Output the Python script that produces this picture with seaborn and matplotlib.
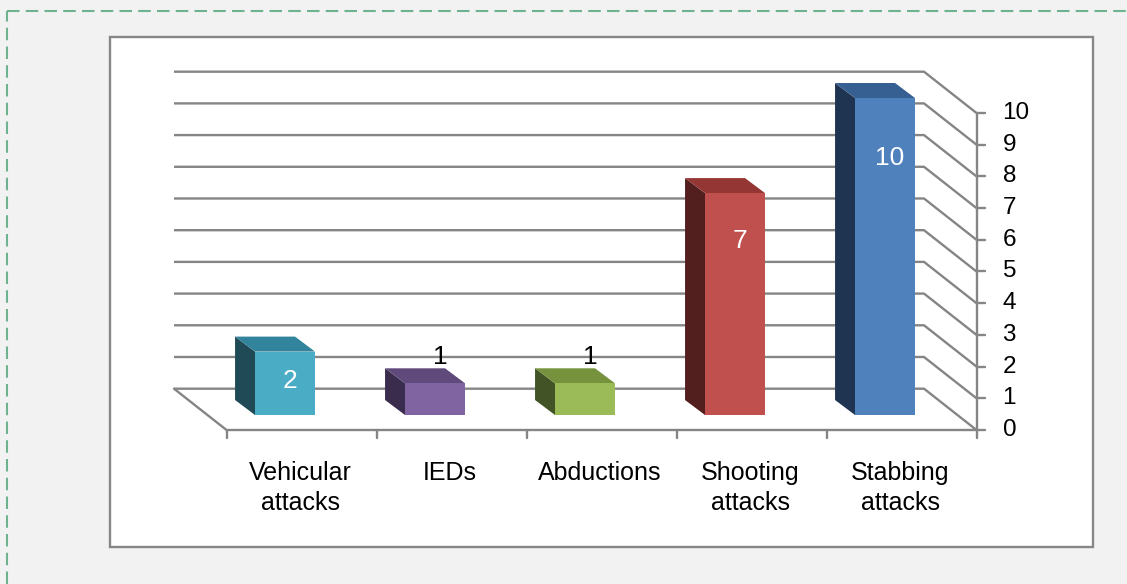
import matplotlib
matplotlib.use("Agg")
import matplotlib.pyplot as plt
import seaborn as sns
import numpy as np
from matplotlib.patches import Polygon, Rectangle
from matplotlib.lines import Line2D

# ---------------- data ----------------
categories = ["Vehicular\nattacks", "IEDs", "Abductions", "Shooting\nattacks", "Stabbing\nattacks"]
values = [2, 1, 1, 7, 10]
y_ticks = list(range(0, 11))

# ---------------- style ----------------
front_colors = ["#4bacc6", "#8064a2", "#9bbb59", "#c0504d", "#4f81bd"]
side_colors = ["#1f4a56", "#3a2c4d", "#425325", "#521f1e", "#1f3450"]
top_colors = ["#31849b", "#604a7b", "#76923c", "#943634", "#376092"]
GRID = "#858585"
FONT = ["Liberation Sans", "DejaVu Sans"]

W, H = 1127, 584
PX_X = 150.0      # pixels per category
PX_Y = 31.7       # pixels per value unit
X0_PIX = 285.0    # pixel of category 0 bar-front centre
Y0_PIX = 415.0    # pixel row of value 0 at bar front

# 3D-ish plane offsets (data units) relative to the bar-front plane
FRONT = (0.11, -0.473)
BACK = (-0.24, 0.83)
BAR_DEPTH = (-0.133, 0.473)

sns.set_theme(style="white")
plt.rcParams["font.family"] = FONT

fig = plt.figure(figsize=(W / 100, H / 100), dpi=100)
fig.patch.set_facecolor("#f2f2f2")

# dashed outer frame
px = lambda x: x / W
py = lambda y: 1 - y / H
BORDER = "#6db38f"
fig.add_artist(Line2D([px(7), px(7)], [py(H), py(11)], color=BORDER, lw=1.5,
                      ls=(0, (6, 3)), transform=fig.transFigure, zorder=-2))
fig.add_artist(Line2D([px(7), px(W)], [py(11), py(11)], color=BORDER, lw=1.5,
                      ls=(0, (6, 3)), transform=fig.transFigure, zorder=-2))
# white chart area
fig.add_artist(Rectangle((px(110), py(547)), px(1093) - px(110), py(37) - py(547),
                         facecolor="white", edgecolor="#878787", lw=1.7,
                         transform=fig.transFigure, zorder=-1))

ax = fig.add_axes([0, 0, 1, 1])
ax.set_facecolor("none")

sns.barplot(x=categories, y=values, hue=categories, palette=front_colors,
            width=0.4, saturation=1, legend=False, ax=ax,
            edgecolor="none", linewidth=0, zorder=5)

ax.set_xlim(-X0_PIX / PX_X, (W - X0_PIX) / PX_X)
ax.set_ylim(-(H - Y0_PIX) / PX_Y, Y0_PIX / PX_Y)
ax.axis("off")

xmin, xmax = -0.5, len(categories) - 0.5
vmax = max(y_ticks)

def P(x, v, plane):
    return (x + plane[0], v + plane[1])

# back wall gridlines + right wall diagonals
for v in y_ticks:
    a = P(xmin, v, BACK)
    b = P(xmax, v, BACK)
    c = P(xmax, v, FRONT)
    ax.plot([a[0], b[0], c[0]], [a[1], b[1], c[1]], color=GRID, lw=1.7,
            solid_capstyle="butt", zorder=1)

# floor: left edge and front edge
a = P(xmin, 0, BACK); b = P(xmin, 0, FRONT); c = P(xmax, 0, FRONT)
ax.plot([a[0], b[0], c[0]], [a[1], b[1], c[1]], color=GRID, lw=1.7, zorder=1)

# front vertical axis
a = P(xmax, 0, FRONT); b = P(xmax, vmax, FRONT)
ax.plot([a[0], b[0]], [a[1], b[1]], color=GRID, lw=1.7, zorder=1)

tick_dx = 8 / PX_X
tick_dy = 8 / PX_Y
for v in y_ticks:
    x, y = P(xmax, v, FRONT)
    ax.plot([x, x + tick_dx], [y, y], color=GRID, lw=1.7, zorder=1)
    ax.text(x + 26 / PX_X, y, str(v), ha="left", va="center", fontsize=17.5,
            color="black")

for i in range(len(categories) + 1):
    x, y = P(i - 0.5, 0, FRONT)
    ax.plot([x, x], [y, y - tick_dy], color=GRID, lw=1.7, zorder=1)

for i, lab in enumerate(categories):
    x, _ = P(i, 0, FRONT)
    ax.text(x - 0.01, -1.45, lab, ha="center", va="top", fontsize=18,
            color="black", linespacing=1.3)

# 3D faces of the bars
bx, by = BAR_DEPTH
for p in ax.patches:
    x0 = p.get_x(); w = p.get_width(); h = p.get_height()
    i = int(round(x0 + w / 2))
    side = Polygon([(x0, 0), (x0, h), (x0 + bx, h + by), (x0 + bx, by)],
                   closed=True, facecolor=side_colors[i], edgecolor="none", zorder=4)
    top = Polygon([(x0, h), (x0 + w, h), (x0 + w + bx, h + by), (x0 + bx, h + by)],
                  closed=True, facecolor=top_colors[i], edgecolor="none", zorder=4)
    ax.add_patch(side)
    ax.add_patch(top)

# data labels
for i, v in enumerate(values):
    if v >= 2:
        ax.text(i + 0.03, 0.88 * v - 0.68, str(v), ha="center", va="center",
                fontsize=19, color="white", zorder=10)
    else:
        ax.text(i + 0.035, v + 0.84, str(v), ha="center", va="center",
                fontsize=19, color="black", zorder=10)

fig.savefig("out.png", dpi=100, facecolor=fig.get_facecolor())
